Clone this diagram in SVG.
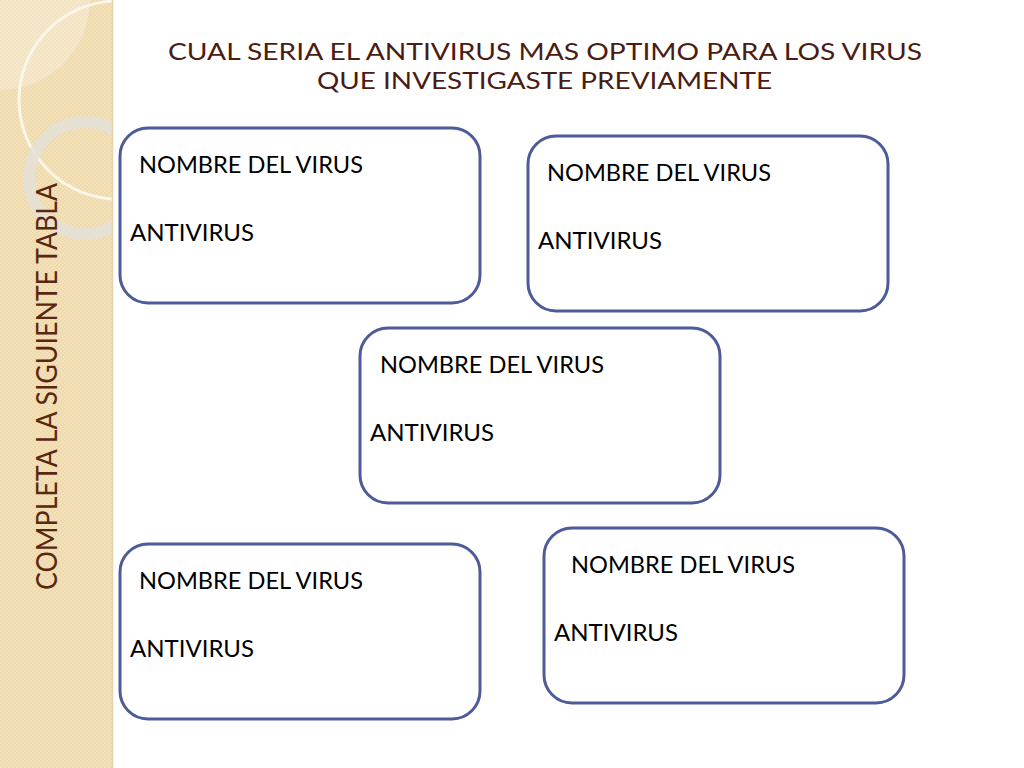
<svg xmlns="http://www.w3.org/2000/svg" width="1024" height="768" viewBox="0 0 1024 768">
<defs>
<pattern id="dots" width="4" height="4" patternUnits="userSpaceOnUse">
<rect width="4" height="4" fill="#f3e1b9"/>
<rect x="0" y="0" width="2" height="2" fill="#eed8aa" opacity="0.7"/>
<rect x="2" y="2" width="2" height="2" fill="#eed8aa" opacity="0.7"/>
</pattern>
<clipPath id="strip"><rect x="0" y="0" width="113" height="768"/></clipPath>
</defs>
<style>
.box{fill:#ffffff;stroke:#4d5c98;stroke-width:3}
.lbl{font-family:"Lato","Liberation Sans",sans-serif;font-size:23px;fill:#000000}
.title{font-family:"Lato","Liberation Sans",sans-serif;font-size:24px;fill:#4a1c12}
.side{font-family:"Lato","Liberation Sans",sans-serif;font-size:29px;fill:#5a2810}
</style>
<rect x="0" y="0" width="1024" height="768" fill="#ffffff"/>
<g id="sidebar">
<rect x="0" y="0" width="113" height="768" fill="url(#dots)"/>
<g clip-path="url(#strip)">
<circle cx="0" cy="0" r="90" fill="#ffffff" opacity="0.25"/>
<circle cx="118" cy="100" r="99" fill="none" stroke="#fbf6ea" stroke-width="3"/>
<circle cx="85" cy="178" r="56" fill="none" stroke="#e4e0d8" stroke-width="12" opacity="0.85"/>
</g>
<line x1="112.5" y1="0" x2="112.5" y2="768" stroke="#e5d3ac" stroke-width="1.5"/>
<text class="side" transform="translate(57,590) rotate(-90)" textLength="407" lengthAdjust="spacingAndGlyphs">COMPLETA LA SIGUIENTE TABLA</text>
</g>
<g id="title">
<text class="title" x="168" y="60" textLength="754" lengthAdjust="spacingAndGlyphs">CUAL SERIA EL ANTIVIRUS MAS OPTIMO PARA LOS VIRUS</text>
<text class="title" x="317" y="89" textLength="455" lengthAdjust="spacingAndGlyphs">QUE INVESTIGASTE PREVIAMENTE</text>
</g>
<g id="box1">
<rect class="box" x="120" y="128" width="360" height="175" rx="28"/>
<text class="lbl" x="139" y="173" textLength="224" lengthAdjust="spacingAndGlyphs">NOMBRE DEL VIRUS</text>
<text class="lbl" x="130" y="241" textLength="124" lengthAdjust="spacingAndGlyphs">ANTIVIRUS</text>
</g>
<g id="box2">
<rect class="box" x="528" y="136" width="360" height="175" rx="28"/>
<text class="lbl" x="547" y="181" textLength="224" lengthAdjust="spacingAndGlyphs">NOMBRE DEL VIRUS</text>
<text class="lbl" x="538" y="249" textLength="124" lengthAdjust="spacingAndGlyphs">ANTIVIRUS</text>
</g>
<g id="box3">
<rect class="box" x="360" y="328" width="360" height="175" rx="28"/>
<text class="lbl" x="380" y="373" textLength="224" lengthAdjust="spacingAndGlyphs">NOMBRE DEL VIRUS</text>
<text class="lbl" x="370" y="441" textLength="124" lengthAdjust="spacingAndGlyphs">ANTIVIRUS</text>
</g>
<g id="box4">
<rect class="box" x="120" y="544" width="360" height="175" rx="28"/>
<text class="lbl" x="139" y="589" textLength="224" lengthAdjust="spacingAndGlyphs">NOMBRE DEL VIRUS</text>
<text class="lbl" x="130" y="657" textLength="124" lengthAdjust="spacingAndGlyphs">ANTIVIRUS</text>
</g>
<g id="box5">
<rect class="box" x="544" y="528" width="360" height="175" rx="28"/>
<text class="lbl" x="571" y="573" textLength="224" lengthAdjust="spacingAndGlyphs">NOMBRE DEL VIRUS</text>
<text class="lbl" x="554" y="641" textLength="124" lengthAdjust="spacingAndGlyphs">ANTIVIRUS</text>
</g>
<g id="connectors"/>
</svg>
